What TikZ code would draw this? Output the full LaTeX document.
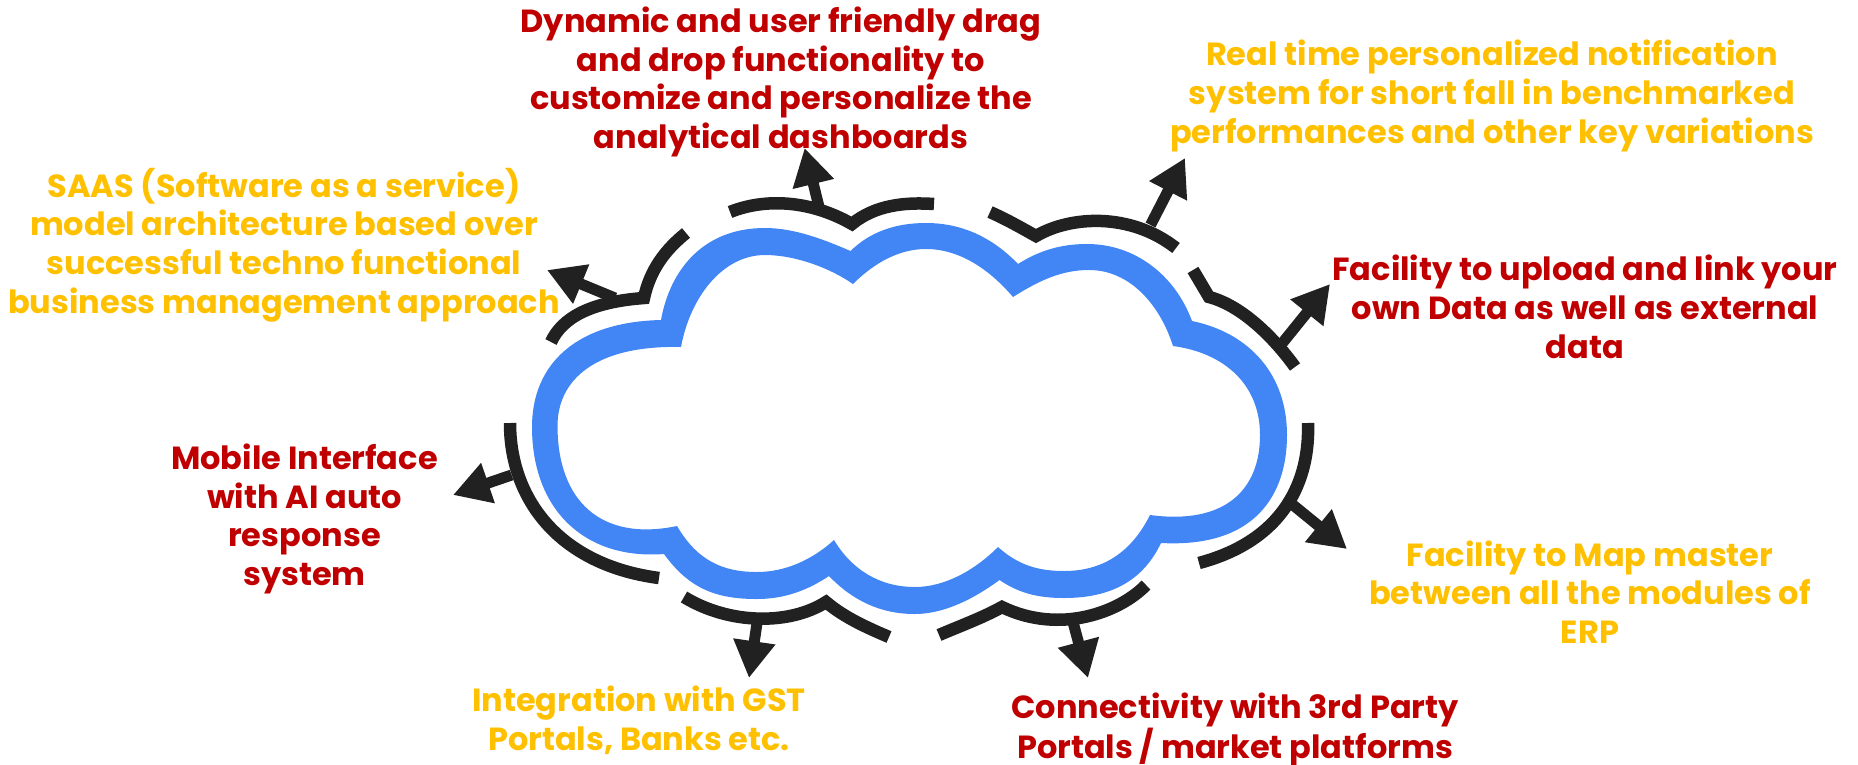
\documentclass[tikz,border=0pt]{standalone}
\usepackage{fontspec}
\setmainfont{Poppins}
\usetikzlibrary{arrows.meta}
\definecolor{cloudblue}{HTML}{4285F4}
\definecolor{ink}{HTML}{212121}
\definecolor{labred}{HTML}{C00000}
\definecolor{labyel}{HTML}{FFC000}
\tikzset{
  x=1pt,y=-1pt,
  arcline/.style={draw=ink,line width=12.5pt,line cap=butt,line join=miter,miter limit=10},
  outarrow/.style={draw=ink,line width=11pt,-{Triangle[length=37pt,width=40pt]}},
  lab/.style={align=center,inner sep=0pt,font=\fontsize{32}{38.7}\selectfont\bfseries},
  redlab/.style={lab,text=labred},
  yellab/.style={lab,text=labyel},
}
\begin{document}
\begin{tikzpicture}
\useasboundingbox (0,0) rectangle (1858,764);
% cloud band
\fill[cloudblue,even odd rule]
 (661,320) .. controls (670,270) and (703,228) .. (765,228)
 .. controls (795,228) and (825,240) .. (850.5,251)
 .. controls (870,232) and (895,223) .. (926,223)
 .. controls (965,223) and (995,240) .. (1018,264)
 .. controls (1040,250) and (1062,244) .. (1087,244)
 .. controls (1135,244) and (1175,275) .. (1192,321)
 .. controls (1250,333) and (1287,375) .. (1287,435)
 .. controls (1287,495) and (1255,548) .. (1161,543)
 .. controls (1141,585) and (1105,598) .. (1064,598)
 .. controls (1040,598) and (1020,594) .. (999.5,580)
 .. controls (975,598) and (945,614) .. (914.6,614)
 .. controls (880,614) and (852,600) .. (829,576)
 .. controls (808,590) and (785,599) .. (757,599)
 .. controls (718,599) and (690,590) .. (664,554)
 .. controls (585,560) and (532,510) .. (532,427)
 .. controls (532,365) and (575,322) .. (661,320) -- cycle
 (681,347) .. controls (690,298) and (722,255) .. (765,255)
 .. controls (795,255) and (830,268) .. (853,284)
 .. controls (875,262) and (900,249) .. (926,249)
 .. controls (960,249) and (990,270) .. (1013,297)
 .. controls (1040,280) and (1062,270) .. (1089,270)
 .. controls (1130,270) and (1160,305) .. (1173,346)
 .. controls (1225,353) and (1260,385) .. (1260,435)
 .. controls (1260,490) and (1225,525) .. (1150,515)
 .. controls (1130,555) and (1100,571) .. (1064,571)
 .. controls (1038,571) and (1018,565) .. (998,547)
 .. controls (975,570) and (945,587) .. (915,587)
 .. controls (880,587) and (852,570) .. (834,540)
 .. controls (812,560) and (785,572) .. (757,572)
 .. controls (722,572) and (697,560) .. (677,526)
 .. controls (600,542) and (558,500) .. (557.5,427)
 .. controls (557,380) and (595,345) .. (681,347) -- cycle;
% arcs
\draw[arcline] (551,342) .. controls (562,318) and (590,302) .. (644,298) .. controls (650,270) and (665,250) .. (686,233);
\draw[arcline] (730,212) .. controls (765,198) and (810,200) .. (852,224) .. controls (875,205) and (905,202) .. (934,204);
\draw[arcline] (990,212) .. controls (1010,221) and (1025,230) .. (1036,236) .. controls (1070,216) and (1130,212) .. (1176,248);
\draw[arcline] (1193,270) -- (1209,297) .. controls (1240,305) and (1272,335) .. (1295,367);
\draw[arcline] (1308,423) .. controls (1310,480) and (1285,540) .. (1199,563);
\draw[arcline] (1146,585) .. controls (1120,612) and (1060,635) .. (1002,607) .. controls (982,618) and (960,626) .. (939,635);
\draw[arcline] (889,637) .. controls (868,628) and (845,618) .. (826,602) .. controls (790,625) and (730,625) .. (684,597);
\draw[arcline] (510,423) .. controls (510,500) and (560,565) .. (659,578);
% arrow ends
\coordinate (a1s) at (615,298); \coordinate (a1t) at (547,270);
\coordinate (a2s) at (819,207); \coordinate (a2t) at (804.6,148);
\coordinate (a3s) at (1150.5,225); \coordinate (a3t) at (1185,158);
\coordinate (a4s) at (1280,346); \coordinate (a4t) at (1330,284);
\coordinate (a5s) at (1290.6,503); \coordinate (a5t) at (1347,549);
\coordinate (a6s) at (1073,622); \coordinate (a6t) at (1088,678);
\coordinate (a7s) at (757,623); \coordinate (a7t) at (749,678);
\coordinate (a8s) at (511.6,475); \coordinate (a8t) at (453,495);
\foreach \n in {1,...,8} \draw[outarrow] (a\n s) -- (a\n t);
% labels
\node[redlab] (top) at (781,82) {Dynamic and user friendly drag\\and drop functionality to\\customize and personalize the\\analytical dashboards};
\node[yellab] (notify) at (1492,96) {Real time personalized notification\\system for short fall in benchmarked\\performances and other key variations};
\node[redlab] (upload) at (1585,307) {Facility to upload and link your\\own Data as well as external\\data};
\node[yellab] (mapm) at (1590,592) {Facility to Map master\\between all the modules of\\ERP};
\node[redlab] (conn) at (1235,730) {Connectivity with 3rd Party\\Portals / market platforms};
\node[yellab] (gst) at (639,720) {Integration with GST\\Portals, Banks etc.};
\node[redlab] (mobile) at (304.5,519) {Mobile Interface\\with AI auto\\response\\system};
\node[yellab] (saas) at (284,245) {SAAS (Software as a service)\\model architecture based over\\successful techno functional\\business management approach};
\end{tikzpicture}
\end{document}
